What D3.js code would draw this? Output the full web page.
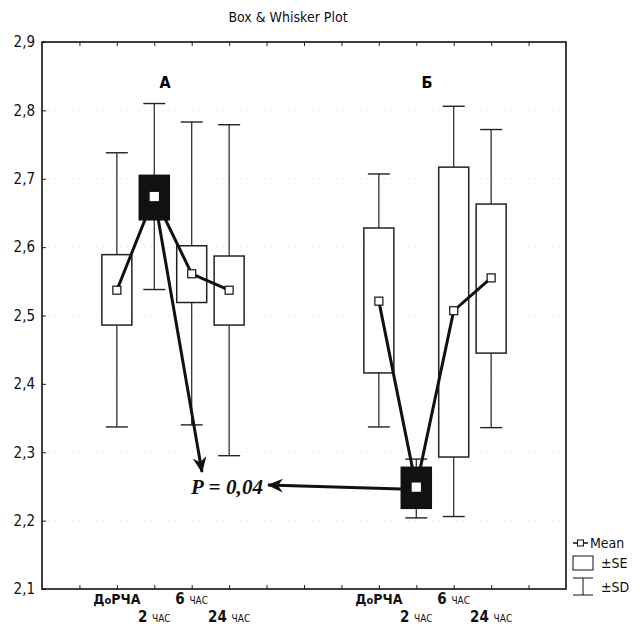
<!DOCTYPE html>
<html>
<head>
<meta charset="utf-8">
<script src="https://cdn.jsdelivr.net/npm/d3@7"></script>
<style>
  body { margin: 0; background: #fff; }
  svg { display: block; }
  .narrow { font-family: 'Liberation Sans Narrow', 'DejaVu Sans Condensed', 'Liberation Sans', sans-serif; }
</style>
</head>
<body>
<div id="chart"></div>
<script>
// categories and groups
const categories = ["ДоРЧА", "2 час", "6 час", "24 час"];
const groups = ["А", "Б"];
const groupPos = [[2, 3, 4, 5], [9, 10, 11, 12]];

// group A
const meanA = [2.537, 2.674, 2.561, 2.537];
const seLoA = [2.486, 2.640, 2.519, 2.486];
const seHiA = [2.589, 2.705, 2.602, 2.587];
const sdLoA = [2.337, 2.538, 2.340, 2.295];
const sdHiA = [2.738, 2.810, 2.783, 2.779];

// group Б
const meanB = [2.521, 2.249, 2.507, 2.555];
const seLoB = [2.416, 2.218, 2.293, 2.445];
const seHiB = [2.628, 2.278, 2.717, 2.663];
const sdLoB = [2.337, 2.204, 2.206, 2.336];
const sdHiB = [2.707, 2.290, 2.806, 2.772];

const highlighted = [[1], [1]]; // filled boxes
const yTicks = [2.1, 2.2, 2.3, 2.4, 2.5, 2.6, 2.7, 2.8, 2.9];
const pLabel = "P = 0,04";

const W = 642, H = 626;
const svg = d3.select('#chart').append('svg').attr('width', W).attr('height', H);

const x = d3.scaleLinear().domain([0, 14]).range([42, 566]);
const y = d3.scaleLinear().domain([2.1, 2.9]).range([589, 42]);

// build rows
let rows = [];
const src = [[meanA, seLoA, seHiA, sdLoA, sdHiA], [meanB, seLoB, seHiB, sdLoB, sdHiB]];
src.forEach((s, g) => {
  categories.forEach((c, i) => {
    rows.push({ g, i, pos: groupPos[g][i], mean: s[0][i], seLo: s[1][i], seHi: s[2][i], sdLo: s[3][i], sdHi: s[4][i], fill: highlighted[g].includes(i) });
  });
});

// title
svg.append('text').attr('class', 'narrow').attr('x', 288).attr('y', 22)
  .attr('text-anchor', 'middle').attr('font-size', 14).attr('fill', '#111').text('Box & Whisker Plot');

// faint grid
svg.append('g').selectAll('line').data(yTicks.slice(1, -1)).join('line')
  .attr('x1', x(0)).attr('x2', x(14)).attr('y1', d => y(d)).attr('y2', d => y(d))
  .attr('stroke', '#f0f0f0').attr('stroke-width', 1).attr('stroke-dasharray', '2,4');

// y axis labels + inward ticks
const yAxis = d3.axisLeft(y).tickValues(yTicks).tickSize(-4).tickPadding(7)
  .tickFormat(d => d3.format('.1f')(d).replace('.', ','));
const yg = svg.append('g').attr('transform', `translate(${x(0)},0)`).call(yAxis);
yg.select('.domain').remove();
yg.selectAll('text').attr('class', 'narrow').attr('font-size', 15).attr('fill', '#111');
yg.selectAll('line').attr('stroke', '#222');

// top/bottom inward ticks
const xt = d3.range(1, 14);
const xg = svg.append('g').attr('transform', `translate(0,${y(2.1)})`)
  .call(d3.axisBottom(x).tickValues(xt).tickSize(-4).tickFormat(''));
xg.select('.domain').remove();
const xg2 = svg.append('g').attr('transform', `translate(0,${y(2.9)})`)
  .call(d3.axisTop(x).tickValues(xt).tickSize(-4).tickFormat(''));
xg2.select('.domain').remove();
svg.selectAll('.tick line').attr('stroke', '#222');

// frame
svg.append('rect').attr('x', x(0)).attr('y', y(2.9)).attr('width', x(14) - x(0)).attr('height', y(2.1) - y(2.9))
  .attr('fill', 'none').attr('stroke', '#111').attr('stroke-width', 1.6);

// x labels
const xl = svg.append('g');
rows.forEach(r => {
  const ty = (r.i % 2 === 0) ? 604 : 622;
  const t = xl.append('text').attr('x', x(r.pos)).attr('y', ty).attr('text-anchor', 'middle')
    .attr('class', 'narrow').attr('fill', '#111');
  if (r.i === 0) {
    t.append('tspan').attr('font-weight', 'bold').attr('font-size', 14).text('Д');
    t.append('tspan').attr('font-weight', 'bold').attr('font-size', 11).text('о');
    t.append('tspan').attr('font-weight', 'bold').attr('font-size', 14).text('РЧА');
  } else {
    const parts = categories[r.i].split(' ');
    t.append('tspan').attr('font-weight', 'bold').attr('font-size', 15).text(parts[0] + ' ');
    t.append('tspan').attr('font-size', 10).style('text-transform', 'uppercase').text(parts[1]);
  }
});

// group labels
groups.forEach((gname, g) => {
  svg.append('text').attr('x', (x(groupPos[g][1]) + x(groupPos[g][2])) / 2 - 8).attr('y', 88)
    .attr('text-anchor', 'middle').attr('font-weight', 'bold').attr('font-size', 16)
    .attr('class', 'narrow').text(gname);
});

const bw = 30, cw = 22;
const marks = svg.append('g');

// whiskers
marks.selectAll('line.wh-up').data(rows).join('line').attr('class', 'wh-up')
  .attr('x1', d => x(d.pos)).attr('x2', d => x(d.pos)).attr('y1', d => y(d.seHi)).attr('y2', d => y(d.sdHi))
  .attr('stroke', '#222').attr('stroke-width', 1.2);
marks.selectAll('line.wh-dn').data(rows).join('line').attr('class', 'wh-dn')
  .attr('x1', d => x(d.pos)).attr('x2', d => x(d.pos)).attr('y1', d => y(d.seLo)).attr('y2', d => y(d.sdLo))
  .attr('stroke', '#222').attr('stroke-width', 1.2);
['sdHi', 'sdLo'].forEach(k => {
  marks.selectAll('line.cap-' + k).data(rows).join('line').attr('class', 'cap-' + k)
    .attr('x1', d => x(d.pos) - cw / 2).attr('x2', d => x(d.pos) + cw / 2)
    .attr('y1', d => y(d[k])).attr('y2', d => y(d[k]))
    .attr('stroke', '#222').attr('stroke-width', 1.4);
});

// white boxes
marks.selectAll('rect.box').data(rows.filter(d => !d.fill)).join('rect').attr('class', 'box')
  .attr('x', d => x(d.pos) - bw / 2).attr('width', bw)
  .attr('y', d => y(d.seHi)).attr('height', d => y(d.seLo) - y(d.seHi))
  .attr('fill', '#fff').attr('stroke', '#222').attr('stroke-width', 1.5);

// arrow marker
const defs = svg.append('defs');
defs.append('marker').attr('id', 'arr').attr('markerUnits', 'userSpaceOnUse')
  .attr('viewBox', '0 0 16 14').attr('refX', 15).attr('refY', 7)
  .attr('markerWidth', 16).attr('markerHeight', 14).attr('orient', 'auto')
  .append('path').attr('d', 'M0,0 L16,7 L0,14 L5,7 Z').attr('fill', '#111');

// mean lines
const line = d3.line().x(d => x(d.pos)).y(d => y(d.mean));
[0, 1].forEach(g => {
  marks.append('path').datum(rows.filter(r => r.g === g)).attr('d', line)
    .attr('fill', 'none').attr('stroke', '#111').attr('stroke-width', 3);
});

// arrows to the p value
const rA = rows.find(r => r.g === 0 && r.fill), rB = rows.find(r => r.g === 1 && r.fill);
marks.append('line').attr('x1', x(rA.pos)).attr('y1', y(rA.mean))
  .attr('x2', 202).attr('y2', 472)
  .attr('stroke', '#111').attr('stroke-width', 3).attr('marker-end', 'url(#arr)');
marks.append('line').attr('x1', x(rB.pos) - bw / 2).attr('y1', y(rB.mean) + 2)
  .attr('x2', 268).attr('y2', y(rB.mean) - 2)
  .attr('stroke', '#111').attr('stroke-width', 3).attr('marker-end', 'url(#arr)');

// filled boxes
marks.selectAll('rect.fbox').data(rows.filter(d => d.fill)).join('rect').attr('class', 'fbox')
  .attr('x', d => x(d.pos) - bw / 2).attr('width', bw)
  .attr('y', d => y(d.seHi)).attr('height', d => y(d.seLo) - y(d.seHi))
  .attr('fill', '#111').attr('stroke', '#111').attr('stroke-width', 1.5);

// mean markers
marks.selectAll('rect.mean').data(rows).join('rect').attr('class', 'mean')
  .attr('x', d => x(d.pos) - 4).attr('y', d => y(d.mean) - 4).attr('width', 8).attr('height', 8)
  .attr('fill', '#fff').attr('stroke', d => d.fill ? '#fff' : '#111').attr('stroke-width', 1.2);

// p label
svg.append('text').attr('x', 191).attr('y', 494)
  .attr('font-family', "'Liberation Serif', 'DejaVu Serif', serif")
  .attr('font-weight', 'bold').attr('font-style', 'italic').attr('font-size', 21)
  .attr('textLength', 72).attr('fill', '#111').text(pLabel);

// legend
const lg = svg.append('g').attr('class', 'narrow').attr('font-size', 14).attr('fill', '#111');
lg.append('line').attr('x1', 573).attr('x2', 588).attr('y1', 543).attr('y2', 543).attr('stroke', '#111').attr('stroke-width', 1.5);
lg.append('rect').attr('x', 577.5).attr('y', 540).attr('width', 6).attr('height', 6).attr('fill', '#fff').attr('stroke', '#111');
lg.append('text').attr('x', 590).attr('y', 548).text('Mean');
lg.append('rect').attr('x', 573).attr('y', 556).attr('width', 20).attr('height', 14).attr('fill', '#fff').attr('stroke', '#111');
lg.append('text').attr('x', 601).attr('y', 568).text('±SE');
lg.append('line').attr('x1', 573).attr('x2', 593).attr('y1', 578).attr('y2', 578).attr('stroke', '#111');
lg.append('line').attr('x1', 583).attr('x2', 583).attr('y1', 578).attr('y2', 595).attr('stroke', '#111');
lg.append('line').attr('x1', 573).attr('x2', 593).attr('y1', 595).attr('y2', 595).attr('stroke', '#111');
lg.append('text').attr('x', 601).attr('y', 592).text('±SD');
</script>
</body>
</html>
